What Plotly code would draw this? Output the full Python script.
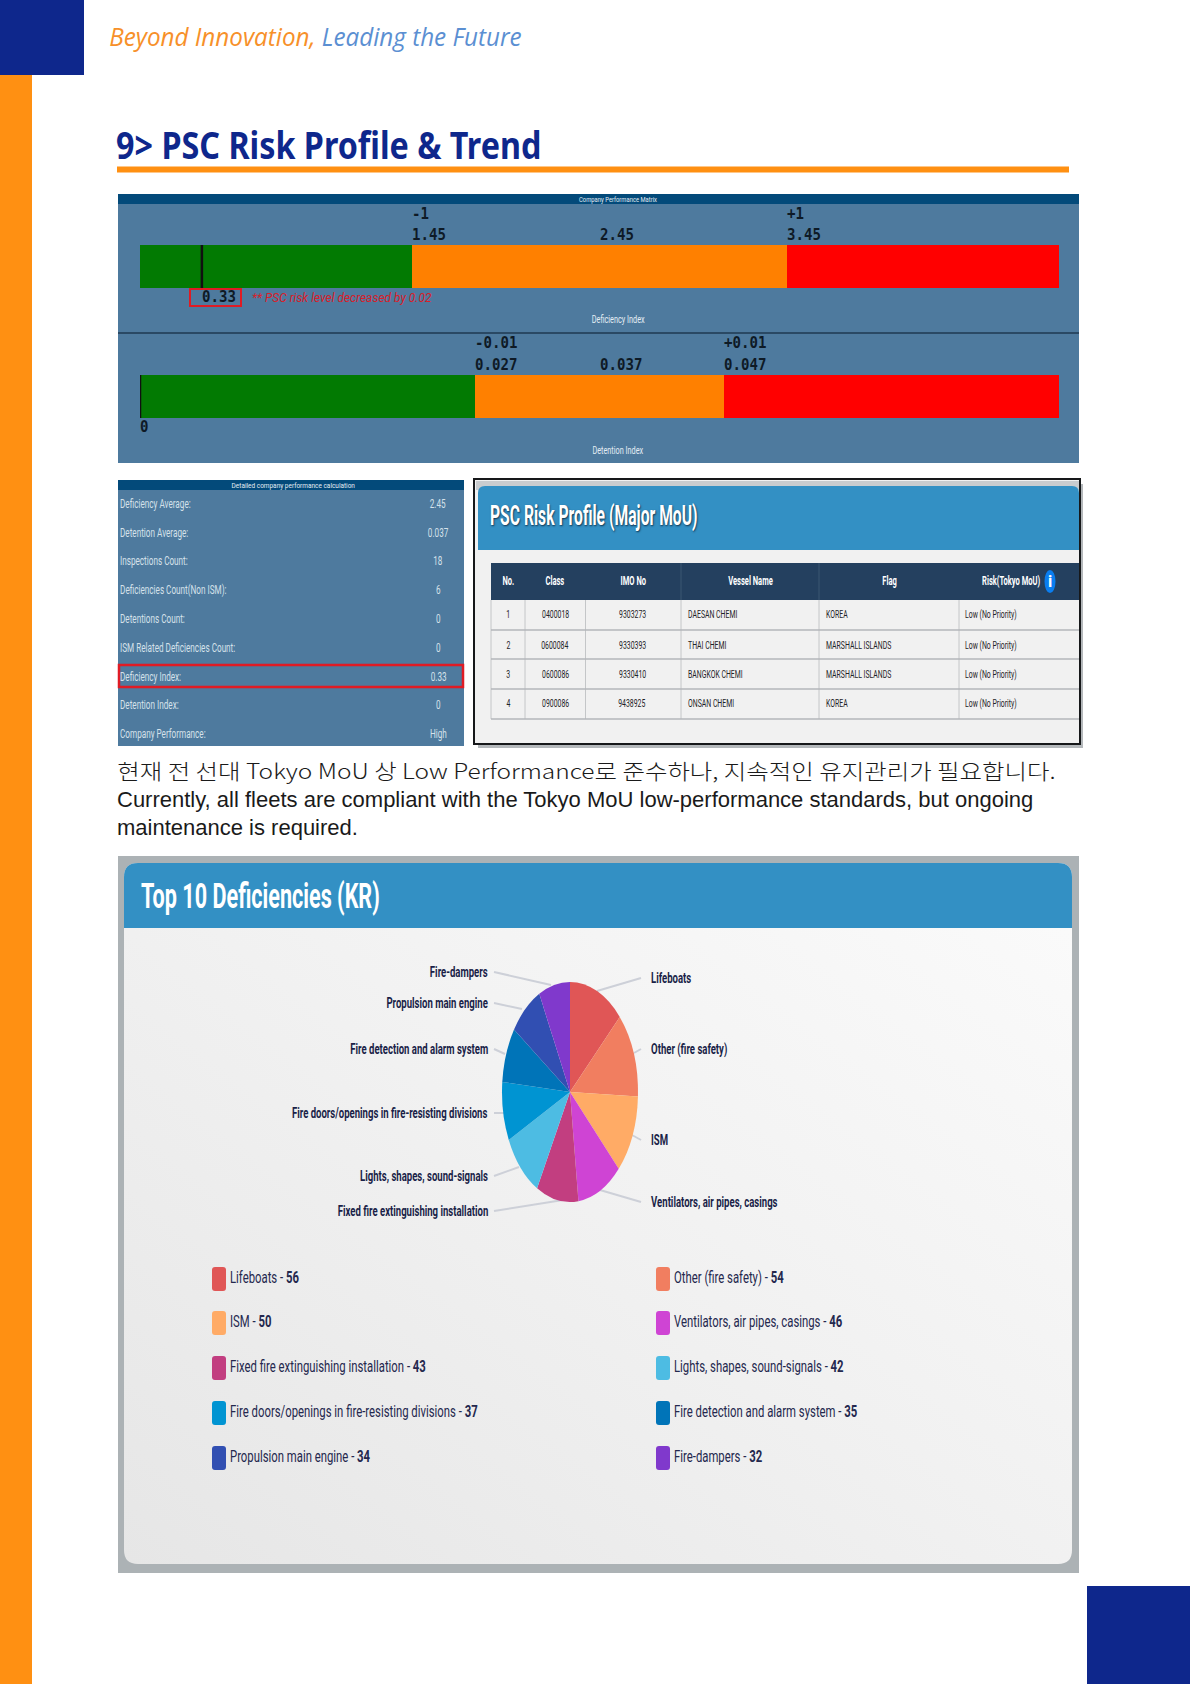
import json
import plotly.graph_objects as go

W, H = 1190, 1684

# ---- data ----
deficiency_zones = [1.45, 2.0, 1.45]
detention_zones = [0.027, 0.020, 0.027]
zone_colors = ["#027a02", "#ff8000", "#ff0000"]
deficiency_index = 0.33
detention_index = 0
deficiency_ticks = [1.45, 2.45, 3.45]
deficiency_tick_labels = ["1.45", "2.45", "3.45"]
deficiency_delta_ticks = [1.45, 3.45]
deficiency_delta_labels = ["-1", "+1"]
detention_ticks = [0.027, 0.037, 0.047]
detention_tick_labels = ["0.027", "0.037", "0.047"]
detention_delta_ticks = [0.027, 0.047]
detention_delta_labels = ["-0.01", "+0.01"]

calc_labels = ["Deficiency Average:", "Detention Average:", "Inspections Count:",
               "Deficiencies Count(Non ISM):", "Detentions Count:",
               "ISM Related Deficiencies Count:", "Deficiency Index:",
               "Detention Index:", "Company Performance:"]
calc_values = ["2.45", "0.037", "18", "6", "0", "0", "0.33", "0", "High"]

table_headers = ["No.", "Class", "IMO No", "Vessel Name", "Flag", "Risk(Tokyo MoU)"]
table_no = ["1", "2", "3", "4"]
table_class = ["0400018", "0600084", "0600086", "0900086"]
table_imo = ["9303273", "9330393", "9330410", "9438925"]
table_vessel = ["DAESAN CHEMI", "THAI CHEMI", "BANGKOK CHEMI", "ONSAN CHEMI"]
table_flag = ["KOREA", "MARSHALL ISLANDS", "MARSHALL ISLANDS", "KOREA"]
table_risk = ["Low (No Priority)"] * 4

def_labels = ["Lifeboats", "Other (fire safety)", "ISM", "Ventilators, air pipes, casings",
              "Fixed fire extinguishing installation", "Lights, shapes, sound-signals",
              "Fire doors/openings in fire-resisting divisions",
              "Fire detection and alarm system", "Propulsion main engine", "Fire-dampers"]
def_values = [56, 54, 50, 46, 43, 42, 37, 35, 34, 32]
def_colors = ["#e05656", "#f17e60", "#ffab66", "#cf44d4", "#c23e80",
              "#4dbce3", "#0094d2", "#0074b8", "#314fb2", "#8039cc"]

# ---- layout helpers ----
NARROW = "Roboto, sans-serif"
MONO = "DejaVu Sans Mono, monospace"
NAVY = "#0e278c"
ORANGE = "#ff9012"
PANEL = "#4e7a9e"
BAND = "#034a7a"
shapes, notes, squeeze = [], [], {}

def fx(x): return x / W
def fy(y): return 1 - y / H

def rect(x0, y0, x1, y1, fill, line=None, lw=0, layer="below"):
    shapes.append(dict(type="rect", xref="paper", yref="paper", x0=fx(x0), x1=fx(x1),
                       y0=fy(y0), y1=fy(y1), fillcolor=fill, layer=layer,
                       line=dict(color=line or fill, width=lw)))

def seg(x0, y0, x1, y1, color, lw=1, layer="below"):
    shapes.append(dict(type="line", xref="paper", yref="paper", x0=fx(x0), x1=fx(x1),
                       y0=fy(y0), y1=fy(y1), layer=layer, line=dict(color=color, width=lw)))

def round_top(x0, y0, x1, y1, r, fill, bottom=True):
    X = lambda v: f"{fx(v):.5f}"
    Y = lambda v: f"{fy(v):.5f}"
    rb = r if bottom else 0
    p = (f"M{X(x0)},{Y(y0+r)} Q{X(x0)},{Y(y0)} {X(x0+r)},{Y(y0)} L{X(x1-r)},{Y(y0)} "
         f"Q{X(x1)},{Y(y0)} {X(x1)},{Y(y0+r)} L{X(x1)},{Y(y1-rb)} "
         f"Q{X(x1)},{Y(y1)} {X(x1-rb)},{Y(y1)} L{X(x0+rb)},{Y(y1)} "
         f"Q{X(x0)},{Y(y1)} {X(x0)},{Y(y1-rb)} Z")
    shapes.append(dict(type="path", xref="paper", yref="paper", path=p, fillcolor=fill,
                       layer="below", line=dict(width=0)))

def text(x, y, s, size, color, anchor="left", family=NARROW, sq=1.0, **font):
    if sq != 1.0:
        squeeze[len(notes)] = [sq, anchor]
    notes.append(dict(xref="paper", yref="paper", x=fx(x), y=fy(y), text=s, showarrow=False,
                      xanchor=anchor, yanchor="middle", borderpad=0, borderwidth=0,
                      font=dict(size=size, color=color, family=family, **font)))

def vtext(axis, v, y, s, size=16, color="#0e1a26"):
    squeeze[len(notes)] = [0.88, "left"]
    notes.append(dict(xref=axis, yref="paper", x=v, y=fy(y), text=s, showarrow=False,
                      xanchor="left", yanchor="middle", borderpad=0, xshift=-1,
                      font=dict(size=size, color=color, family=MONO, weight="bold")))

# ---- page furniture ----
rect(0, 75, 32, H, ORANGE)
rect(0, 0, 84, 75, NAVY)
rect(1087, 1586, W, H, NAVY)
text(109, 36, "<i><span style='color:#f79029'>Beyond Innovation,</span> "
     "<span style='color:#5b8fd2'>Leading the Future</span></i>", 25, "#5b8fd2",
     family="Open Sans, sans-serif", sq=0.97, weight=400)
text(116, 144, "<b>9&gt; PSC Risk Profile &amp; Trend</b>", 38, NAVY,
     family="Noto Sans, Open Sans, sans-serif", sq=0.85)
seg(117, 169.5, 1069, 169.5, ORANGE, 6)

# ---- gauge panel ----
rect(118, 194, 1079, 463, PANEL)
rect(118, 194, 1079, 204, BAND)
seg(118, 333, 1079, 333, "#1f3a50", 1.5)
text(618, 199, "Company Performance Matrix", 7.5, "#e4edf4", "center", sq=0.78)
text(618, 320, "Deficiency Index", 10, "#e4edf4", "center", sq=0.73)
text(618, 450, "Detention Index", 10, "#e4edf4", "center", sq=0.73)
for v, s in zip(deficiency_delta_ticks, deficiency_delta_labels):
    vtext("x", v, 213, s)
for v, s in zip(deficiency_ticks, deficiency_tick_labels):
    vtext("x", v, 234, s)
for v, s in zip(detention_delta_ticks, detention_delta_labels):
    vtext("x2", v, 343, s)
for v, s in zip(detention_ticks, detention_tick_labels):
    vtext("x2", v, 364, s)
vtext("x", deficiency_index, 296, f"{deficiency_index}")
vtext("x2", detention_index, 426, f"{detention_index}")
rect(190, 289, 241, 306, "rgba(0,0,0,0)", "#e01b24", 2, "above")
text(252, 297, "<i>** PSC risk level decreased by 0.02</i>", 13.5, "#d8202a", sq=0.885)

# ---- calculation panel ----
rect(118, 480, 464, 746, PANEL)
rect(118, 480, 464, 490, BAND)
text(293, 485, "Detailed company performance calculation", 8, "#e4edf4", "center", sq=0.81)
calc_y = [504, 533, 561, 590, 619, 648, 677, 705, 734]
for yy, a, b in zip(calc_y, calc_labels, calc_values):
    text(120, yy, a, 12, "#d5e1ea", sq=0.68)
    text(438, yy, b, 12, "#d5e1ea", "center", sq=0.68)
rect(119, 665, 463, 687, "rgba(0,0,0,0)", "#e01b24", 2.5, "above")

# ---- risk profile table ----
rect(478, 484, 1083, 748, "#b4b8bb")
rect(474, 479, 1080, 744, "#f1f1f1", "#16181a", 2)
rect(476, 481, 1079, 490, "#c9cccf")
round_top(478, 486, 1079, 550, 7, "#3390c4", bottom=False)
text(490, 515, "PSC Risk Profile (Major MoU)", 28, "#ffffff", weight="bold", sq=0.56,
     shadow="1px 1px 2px #10304a")
rect(491, 563, 1079, 600, "#24405f")
col_centers = [508, 555, 633, 750, 889, 1011]
for cx, s in zip(col_centers, table_headers):
    text(cx, 581, s, 12, "#ffffff", "center", weight="bold", sq=0.63)
shapes.append(dict(type="circle", xref="paper", yref="paper", x0=fx(1044.5), x1=fx(1055.5),
                   y0=fy(593), y1=fy(570), fillcolor="#0a7ef0", line=dict(width=0), layer="below"))
text(1050, 581, "i", 16, "#ffffff", "center", weight="bold")
row_y = [614, 645, 674, 703]
row_line = [630, 659, 689, 719]
for xx in [681, 819]:
    seg(xx, 563, xx, 600, "#3b5672", 1)
for xx in [491, 525, 585.5, 681, 819, 959]:
    seg(xx, 600, xx, 719, "#c4c6c8", 1)
for yy in row_line:
    seg(491, yy, 1079, yy, "#b3b6ba", 1.5)
for i, yy in enumerate(row_y):
    text(508, yy, table_no[i], 11.5, "#1e2328", "center", sq=0.6)
    text(555, yy, table_class[i], 11.5, "#1e2328", "center", sq=0.6)
    text(632, yy, table_imo[i], 11.5, "#1e2328", "center", sq=0.6)
    text(688, yy, table_vessel[i], 11.5, "#1e2328", sq=0.6)
    text(826, yy, table_flag[i], 11.5, "#1e2328", sq=0.6)
    text(965, yy, table_risk[i], 11.5, "#1e2328", sq=0.6)

# ---- body copy ----
text(117, 770, "현재 전 선대 Tokyo MoU 상 Low Performance로 준수하나, 지속적인 유지관리가 필요합니다.",
     21, "#1a1a1a", family="Noto Sans CJK KR, sans-serif", sq=1.165, weight=300)
text(117, 799, "Currently, all fleets are compliant with the Tokyo MoU low-performance standards, but ongoing",
     22, "#1a1a1a", family="Liberation Sans, Arial, sans-serif")
text(117, 827, "maintenance is required.", 22, "#1a1a1a", family="Liberation Sans, Arial, sans-serif")

# ---- deficiency card ----
rect(118, 856, 1079, 1573, "#acb2b5")
CARD_INDEX = len(shapes)
round_top(124, 863, 1072, 1564, 14, "#f1f1f1")
round_top(124, 863, 1072, 928, 14, "#3390c4", bottom=False)
text(141, 896, "Top 10 Deficiencies (KR)", 36, "#ffffff", weight="bold", sq=0.6)

# leader lines (pixel anchor pairs)
for (a, b, c, d) in [(597, 991, 641, 978), (634, 1053, 641, 1049), (632, 1135, 641, 1140),
                     (600, 1190, 641, 1202), (494, 972, 551, 985), (494, 1003, 522, 1009),
                     (494, 1049, 505, 1054), (494, 1113, 504, 1113), (494, 1176, 519, 1167),
                     (494, 1211, 563, 1200)]:
    seg(a, b, c, d, "#cdd0d8", 2)

label_side = ["r", "r", "r", "r", "l", "l", "l", "l", "l", "l"]
label_y = [978, 1049, 1140, 1202, 1211, 1176, 1113, 1049, 1003, 972]
for s, side, yy in zip(def_labels, label_side, label_y):
    if side == "r":
        text(651, yy, s, 14.5, "#1a1f48", "left", weight="bold", sq=0.66)
    else:
        text(488, yy, s, 14.5, "#1a1f48", "right", weight="bold", sq=0.66)

legend_y = [1279, 1279, 1323, 1323, 1368, 1368, 1413, 1413, 1458, 1458]
for i, (s, v, c, yy) in enumerate(zip(def_labels, def_values, def_colors, legend_y)):
    x0 = 212 if i % 2 == 0 else 656
    round_top(x0, yy - 12, x0 + 14, yy + 12, 3, c)
    text(x0 + 18, yy - 2, f"{s} - <b>{v}</b>", 16, "#24284e", sq=0.708)

# ---- traces ----
fig = go.Figure()
for name, val, col in zip(["Low", "Average", "High"], deficiency_zones, zone_colors):
    fig.add_trace(go.Bar(x=[val], y=[0], orientation="h", marker=dict(color=col, line=dict(width=0)),
                         width=1, name=name, xaxis="x", yaxis="y", showlegend=False, hoverinfo="skip"))
for name, val, col in zip(["Low", "Average", "High"], detention_zones, zone_colors):
    fig.add_trace(go.Bar(x=[val], y=[0], orientation="h", marker=dict(color=col, line=dict(width=0)),
                         width=1, name=name, xaxis="x2", yaxis="y2", showlegend=False, hoverinfo="skip"))
fig.add_trace(go.Scatter(x=[deficiency_index] * 2, y=[-0.5, 0.5], mode="lines",
                         line=dict(color="#101010", width=2.5), xaxis="x", yaxis="y",
                         showlegend=False, hoverinfo="skip"))
fig.add_trace(go.Scatter(x=[detention_index] * 2, y=[-0.5, 0.5], mode="lines",
                         line=dict(color="#101010", width=2.5), xaxis="x2", yaxis="y2",
                         showlegend=False, hoverinfo="skip", cliponaxis=False))
PIE_CX, PIE_CY, PIE_RY, PIE_RX = 570, 1092, 110, 68
fig.add_trace(go.Pie(labels=def_labels, values=def_values, sort=False, direction="clockwise",
                     rotation=0, textinfo="none", hoverinfo="skip", showlegend=False,
                     marker=dict(colors=def_colors, line=dict(width=0)),
                     domain=dict(x=[fx(PIE_CX - PIE_RY), fx(PIE_CX + PIE_RY)],
                                 y=[fy(PIE_CY + PIE_RY), fy(PIE_CY - PIE_RY)])))

hidden = dict(visible=False, fixedrange=True)
fig.update_layout(
    width=W, height=H, margin=dict(l=0, r=0, t=0, b=0, pad=0), autosize=False,
    paper_bgcolor="#ffffff", plot_bgcolor="rgba(0,0,0,0)", barmode="stack", bargap=0,
    showlegend=False, shapes=shapes, annotations=notes, hovermode=False,
    xaxis=dict(hidden, domain=[fx(140), fx(1059)], range=[0, sum(deficiency_zones)]),
    yaxis=dict(hidden, domain=[fy(288), fy(245)], range=[-0.5, 0.5]),
    xaxis2=dict(hidden, domain=[fx(140), fx(1059)], range=[0, sum(detention_zones)], anchor="y2"),
    yaxis2=dict(hidden, domain=[fy(418), fy(375)], range=[-0.5, 0.5], anchor="x2"),
)

post = f"""
document.body.style.margin='0';
document.documentElement.style.overflow='hidden';
var layer=document.querySelector('.pielayer');
if(layer) layer.setAttribute('transform','translate({PIE_CX},0) scale({PIE_RX / PIE_RY:.4f},1) translate({-PIE_CX},0)');
var SQ={json.dumps(squeeze)};
document.querySelectorAll('.annotation').forEach(function(g){{
  var e=SQ[g.getAttribute('data-index')]; if(!e) return;
  var t=g.querySelector('text'); if(!t) return;
  var b=t.getBBox();
  var ax=e[1]=='left'?b.x:(e[1]=='right'?b.x+b.width:b.x+b.width/2);
  t.setAttribute('transform','translate('+ax+',0) scale('+e[0]+',1) translate('+(-ax)+',0)');
}});
var svg=document.querySelector('.main-svg');
var NS='http://www.w3.org/2000/svg';
var defs=document.createElementNS(NS,'defs');
defs.innerHTML='<linearGradient id="cardfade" x1="0" y1="1" x2="1" y2="0"><stop offset="0" stop-color="#e6e6e6"/><stop offset="0.5" stop-color="#f1f1f1"/><stop offset="1" stop-color="#fbfbfb"/></linearGradient>';
svg.insertBefore(defs,svg.firstChild);
var card=document.querySelector('.layer-below .shapelayer path[data-index="{CARD_INDEX}"]');
if(card) card.style.fill='url(#cardfade)';
"""
fig.write_html("out.html", config=dict(displayModeBar=False, staticPlot=True), post_script=post)
